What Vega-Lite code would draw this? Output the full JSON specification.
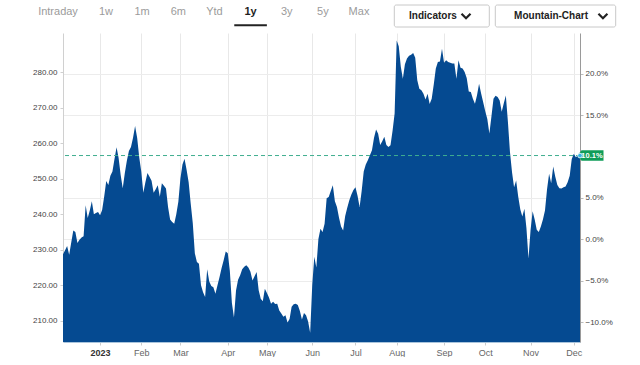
{
"$schema":"https://vega.github.io/schema/vega-lite/v6.json",
"padding":{"left":32,"top":4,"right":0,"bottom":0},
"background":"#ffffff",
"spacing":3,
"config":{"view":{"stroke":null},"font":"Liberation Sans"},
"datasets":{
 "tabs":[{"tab":"Intraday"},{"tab":"1w"},{"tab":"1m"},{"tab":"6m"},{"tab":"Ytd"},{"tab":"1y"},{"tab":"3y"},{"tab":"5y"},{"tab":"Max"}],
 "buttons":[{"button":"Indicators"},{"button":"Mountain-Chart"}],
 "last":[{"i":251,"pct":10.13,"label":"10.1%"}],
 "series":[
{"i":0,"price":228.7},{"i":1,"price":229.8},{"i":2,"price":231.0},{"i":3,"price":228.6},{"i":4,"price":232.0},{"i":5,"price":235.4},{"i":6,"price":235.0},{"i":7,"price":231.9},{"i":8,"price":232.8},{"i":9,"price":233.4},
{"i":10,"price":233.8},{"i":11,"price":242.5},{"i":12,"price":238.9},{"i":13,"price":241.0},{"i":14,"price":243.6},{"i":15,"price":240.0},{"i":16,"price":240.3},{"i":17,"price":240.6},{"i":18,"price":239.7},{"i":19,"price":241.2},
{"i":20,"price":245.0},{"i":21,"price":249.3},{"i":22,"price":248.2},{"i":23,"price":250.8},{"i":24,"price":252.0},{"i":25,"price":255.5},{"i":26,"price":258.8},{"i":27,"price":255.8},{"i":28,"price":251.0},{"i":29,"price":247.3},
{"i":30,"price":251.5},{"i":31,"price":255.0},{"i":32,"price":257.8},{"i":33,"price":258.9},{"i":34,"price":261.5},{"i":35,"price":264.8},{"i":36,"price":261.5},{"i":37,"price":256.0},{"i":38,"price":252.0},{"i":39,"price":246.0},
{"i":40,"price":249.0},{"i":41,"price":251.6},{"i":42,"price":250.5},{"i":43,"price":249.4},{"i":44,"price":246.0},{"i":45,"price":247.0},{"i":46,"price":248.1},{"i":47,"price":244.9},{"i":48,"price":248.7},{"i":49,"price":248.0},
{"i":50,"price":247.2},{"i":51,"price":242.0},{"i":52,"price":238.5},{"i":53,"price":237.8},{"i":54,"price":237.3},{"i":55,"price":240.0},{"i":56,"price":243.5},{"i":57,"price":250.0},{"i":58,"price":254.0},{"i":59,"price":255.6},
{"i":60,"price":252.5},{"i":61,"price":249.0},{"i":62,"price":243.0},{"i":63,"price":237.5},{"i":64,"price":229.0},{"i":65,"price":226.5},{"i":66,"price":226.0},{"i":67,"price":220.0},{"i":68,"price":218.0},{"i":69,"price":216.7},
{"i":70,"price":224.5},{"i":71,"price":221.0},{"i":72,"price":219.8},{"i":73,"price":219.4},{"i":74,"price":217.6},{"i":75,"price":220.0},{"i":76,"price":222.3},{"i":77,"price":224.8},{"i":78,"price":227.0},{"i":79,"price":229.5},
{"i":80,"price":229.0},{"i":81,"price":224.0},{"i":82,"price":215.0},{"i":83,"price":210.9},{"i":84,"price":218.5},{"i":85,"price":221.5},{"i":86,"price":222.8},{"i":87,"price":224.5},{"i":88,"price":225.2},{"i":89,"price":225.6},
{"i":90,"price":225.0},{"i":91,"price":223.8},{"i":92,"price":221.3},{"i":93,"price":222.5},{"i":94,"price":223.7},{"i":95,"price":218.6},{"i":96,"price":216.2},{"i":97,"price":215.5},{"i":98,"price":219.0},{"i":99,"price":217.8},
{"i":100,"price":216.5},{"i":101,"price":214.8},{"i":102,"price":215.3},{"i":103,"price":214.7},{"i":104,"price":214.8},{"i":105,"price":212.9},{"i":106,"price":212.0},{"i":107,"price":211.1},{"i":108,"price":211.5},{"i":109,"price":209.5},
{"i":110,"price":210.5},{"i":111,"price":213.9},{"i":112,"price":214.6},{"i":113,"price":214.8},{"i":114,"price":214.4},{"i":115,"price":212.7},{"i":116,"price":210.3},{"i":117,"price":212.2},{"i":118,"price":211.5},{"i":119,"price":209.8},
{"i":120,"price":206.6},{"i":121,"price":220.0},{"i":122,"price":228.0},{"i":123,"price":225.0},{"i":124,"price":233.0},{"i":125,"price":235.9},{"i":126,"price":235.0},{"i":127,"price":237.3},{"i":128,"price":244.5},{"i":129,"price":244.8},
{"i":130,"price":246.5},{"i":131,"price":248.1},{"i":132,"price":243.6},{"i":133,"price":242.0},{"i":134,"price":239.0},{"i":135,"price":236.5},{"i":136,"price":235.4},{"i":137,"price":239.5},{"i":138,"price":241.8},{"i":139,"price":243.9},
{"i":140,"price":245.5},{"i":141,"price":246.8},{"i":142,"price":247.6},{"i":143,"price":245.2},{"i":144,"price":242.0},{"i":145,"price":246.5},{"i":146,"price":252.0},{"i":147,"price":254.0},{"i":148,"price":255.2},{"i":149,"price":256.6},
{"i":150,"price":258.0},{"i":151,"price":261.5},{"i":152,"price":263.8},{"i":153,"price":262.6},{"i":154,"price":259.5},{"i":155,"price":260.5},{"i":156,"price":261.8},{"i":157,"price":259.5},{"i":158,"price":258.9},{"i":159,"price":259.4},
{"i":160,"price":263.5},{"i":161,"price":268.3},{"i":162,"price":288.9},{"i":163,"price":287.3},{"i":164,"price":281.5},{"i":165,"price":278.1},{"i":166,"price":282.2},{"i":167,"price":283.8},{"i":168,"price":284.6},{"i":169,"price":284.9},
{"i":170,"price":285.4},{"i":171,"price":284.0},{"i":172,"price":277.7},{"i":173,"price":275.3},{"i":174,"price":274.9},{"i":175,"price":273.9},{"i":176,"price":272.3},{"i":177,"price":273.9},{"i":178,"price":271.0},{"i":179,"price":272.5},
{"i":180,"price":276.5},{"i":181,"price":281.0},{"i":182,"price":282.8},{"i":183,"price":283.0},{"i":184,"price":286.6},{"i":185,"price":282.6},{"i":186,"price":283.3},{"i":187,"price":282.8},{"i":188,"price":282.6},{"i":189,"price":282.4},
{"i":190,"price":282.4},{"i":191,"price":278.1},{"i":192,"price":283.3},{"i":193,"price":281.2},{"i":194,"price":281.0},{"i":195,"price":280.0},{"i":196,"price":278.3},{"i":197,"price":274.5},{"i":198,"price":274.4},{"i":199,"price":272.5},
{"i":200,"price":271.1},{"i":201,"price":273.5},{"i":202,"price":276.7},{"i":203,"price":274.0},{"i":204,"price":271.5},{"i":205,"price":269.0},{"i":206,"price":266.8},{"i":207,"price":262.7},{"i":208,"price":267.5},{"i":209,"price":272.5},
{"i":210,"price":273.3},{"i":211,"price":273.0},{"i":212,"price":272.0},{"i":213,"price":268.8},{"i":214,"price":271.2},{"i":215,"price":273.4},{"i":216,"price":266.0},{"i":217,"price":257.5},{"i":218,"price":251.8},{"i":219,"price":247.6},
{"i":220,"price":249.5},{"i":221,"price":245.0},{"i":222,"price":241.4},{"i":223,"price":239.3},{"i":224,"price":241.5},{"i":225,"price":236.0},{"i":226,"price":227.5},{"i":227,"price":235.5},{"i":228,"price":240.8},{"i":229,"price":238.5},
{"i":230,"price":235.6},{"i":231,"price":235.0},{"i":232,"price":236.5},{"i":233,"price":238.5},{"i":234,"price":241.0},{"i":235,"price":247.0},{"i":236,"price":251.4},{"i":237,"price":248.7},{"i":238,"price":253.4},{"i":239,"price":250.5},
{"i":240,"price":248.2},{"i":241,"price":247.3},{"i":242,"price":247.2},{"i":243,"price":247.6},{"i":244,"price":247.8},{"i":245,"price":249.0},{"i":246,"price":250.8},{"i":247,"price":255.5},{"i":248,"price":257.0},{"i":249,"price":256.0},
{"i":250,"price":256.6},{"i":251,"price":256.5}
 ]
},
"vconcat":[
 {"width":517,"height":22,
  "resolve":{"scale":{"x":"independent"}},
  "layer":[
   {"data":{"name":"tabs"},"transform":[{"filter":"datum.tab == 'Intraday'"}],
    "mark":{"type":"text","fontSize":11,"dy":-4,"color":"#9b9b9b"},
    "encoding":{"x":{"field":"tab","type":"nominal","scale":{"type":"point","domain":["Intraday"],"range":[-5,-5],"padding":0},"axis":null},"text":{"field":"tab"}}},
   {"data":{"name":"tabs"},"transform":[{"filter":"datum.tab != 'Intraday'"}],
    "encoding":{"x":{"field":"tab","type":"nominal","scale":{"type":"point","domain":["1w","1m","6m","Ytd","1y","3y","5y","Max"],"range":[43,296],"padding":0},"axis":null}},
    "layer":[
     {"transform":[{"filter":"datum.tab != '1y'"}],"mark":{"type":"text","fontSize":11,"dy":-4,"color":"#9b9b9b"},"encoding":{"text":{"field":"tab"}}},
     {"transform":[{"filter":"datum.tab == '1y'"}],"mark":{"type":"text","fontSize":11,"dy":-4,"fontWeight":"bold","color":"#1f1f1f"},"encoding":{"text":{"field":"tab"}}},
     {"transform":[{"filter":"datum.tab == '1y'"}],"mark":{"type":"point","shape":"M-1,0.57L1,0.57","size":1063,"filled":false,"stroke":"#222222","strokeWidth":2,"opacity":1},"encoding":{}}
    ]},
   {"data":{"name":"buttons"},"transform":[{"filter":"datum.button == 'Indicators'"}],
    "encoding":{"x":{"field":"button","type":"nominal","scale":{"type":"band","domain":["Indicators"],"range":[331.3,426.3],"paddingInner":0,"paddingOuter":0},"axis":null}},
    "layer":[
     {"mark":{"type":"bar","fill":"#ffffff","stroke":"#c8c8c8","strokeWidth":1,"cornerRadius":2}},
     {"mark":{"type":"text","fontSize":10,"fontWeight":"bold","color":"#222222"},"encoding":{"x":{"field":"button","type":"nominal","bandPosition":0.407},"text":{"field":"button"}}},
     {"mark":{"type":"point","shape":"M-1,-0.5L0,0.5L1,-0.5","size":81,"filled":false,"stroke":"#222222","strokeWidth":2.2,"opacity":1},"encoding":{"x":{"field":"button","type":"nominal","bandPosition":0.755}}}
    ]},
   {"data":{"name":"buttons"},"transform":[{"filter":"datum.button == 'Mountain-Chart'"}],
    "encoding":{"x":{"field":"button","type":"nominal","scale":{"type":"band","domain":["Mountain-Chart"],"range":[432.3,552.7],"paddingInner":0,"paddingOuter":0},"axis":null}},
    "layer":[
     {"mark":{"type":"bar","fill":"#ffffff","stroke":"#c8c8c8","strokeWidth":1,"cornerRadius":2}},
     {"mark":{"type":"text","fontSize":10,"fontWeight":"bold","color":"#222222"},"encoding":{"x":{"field":"button","type":"nominal","bandPosition":0.463},"text":{"field":"button"}}},
     {"mark":{"type":"point","shape":"M-1,-0.5L0,0.5L1,-0.5","size":81,"filled":false,"stroke":"#222222","strokeWidth":2.2,"opacity":1},"encoding":{"x":{"field":"button","type":"nominal","bandPosition":0.894}}}
    ]}
  ]},
 {"width":517,"height":309,
  "resolve":{"scale":{"y":"independent"}},
  "layer":[
   {"data":{"name":"series"},
    "layer":[
     {"mark":{"type":"area","color":"#054a91","clip":true},
      "encoding":{
       "x":{"field":"i","type":"quantitative","scale":{"domain":[0,251],"nice":false,"zero":false},
            "axis":{"title":null,"values":[18,38,57,80,99,121,142,162,185,205,227,248],
                    "labelExpr":"datum.value == 18 ? '2023' : datum.value == 38 ? 'Feb' : datum.value == 57 ? 'Mar' : datum.value == 80 ? 'Apr' : datum.value == 99 ? 'May' : datum.value == 121 ? 'Jun' : datum.value == 142 ? 'Jul' : datum.value == 162 ? 'Aug' : datum.value == 185 ? 'Sep' : datum.value == 205 ? 'Oct' : datum.value == 227 ? 'Nov' : 'Dec'",
                    "grid":true,"gridColor":"#e8e8e8","domainColor":"#a9c4dc","tickColor":"#cccccc","tickSize":3,"labelPadding":3,"labelFontSize":9,
                    "labelFontWeight":{"condition":{"test":"datum.value == 18","value":"bold"},"value":"normal"},
                    "labelColor":{"condition":{"test":"datum.value == 18","value":"#333333"},"value":"#666666"}}},
       "y":{"field":"price","type":"quantitative","scale":{"domain":[204,291],"nice":false,"zero":false},
            "axis":{"title":null,"orient":"left","values":[210,220,230,240,250,260,270,280],"format":".2f","grid":false,
                    "domainColor":"#d0d0d0","tickColor":"#d0d0d0","tickSize":3,"labelPadding":3,"labelFontSize":8,"labelColor":"#444444"}}}},
     {"transform":[{"filter":"datum.i == 251"}],
      "mark":{"type":"rule","color":"#3fae8f","strokeDash":[4,3],"strokeWidth":1},
      "encoding":{"y":{"field":"price","type":"quantitative"}}}
    ]},
   {"data":{"name":"last"},
    "encoding":{
     "x":{"field":"i","type":"quantitative"},
     "y":{"field":"pct","type":"quantitative","scale":{"domain":[-12.409,24.946],"nice":false,"zero":false},
          "axis":{"title":null,"orient":"right","values":[-10,-5,0,5,15,20],"labelExpr":"format(datum.value, '.1f') + '%'",
                  "grid":true,"gridColor":"#ececec","domainColor":"#9a9a9a","tickColor":"#bbbbbb","tickSize":3,"labelPadding":2,"labelFontSize":8,"labelColor":"#444444"}}},
    "layer":[
     {"mark":{"type":"point","shape":"M-0.25,0L0.15,-0.52L2.35,-0.52L2.35,0.52L0.15,0.52Z","size":400,"filled":true,"fill":"#0f9d58","opacity":1,"strokeWidth":0}},
     {"mark":{"type":"text","dx":12,"fontSize":7.5,"fontWeight":"bold","color":"#ffffff"},"encoding":{"text":{"field":"label"}}},
     {"mark":{"type":"point","shape":"circle","size":22,"filled":true,"fill":"#35b5e5","stroke":"#ffffff","strokeWidth":0.8,"opacity":1}}
    ]}
  ]}
]
}
